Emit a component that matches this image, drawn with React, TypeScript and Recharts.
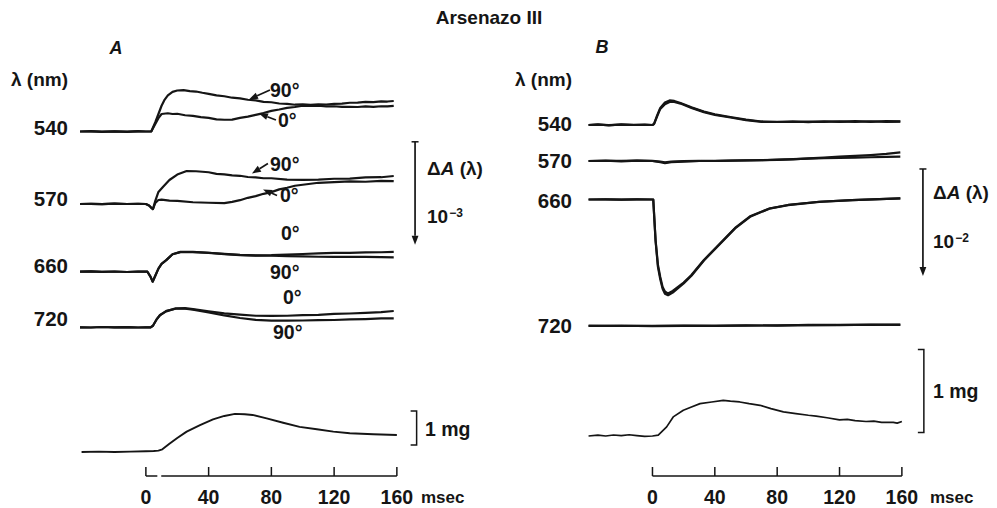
import React from 'react';
import { LineChart, Line, XAxis, YAxis, ReferenceLine } from 'recharts';

type Pt = [number, number];

// ---------- axis values ----------
const TIME_TICKS = [0, 40, 80, 120, 160];
const TIME_DOMAIN: [number, number] = [-42, 162];
const TITLE = 'Arsenazo III';
const WAVELENGTHS = ['540', '570', '660', '720'];

// ---------- Panel A : ΔA in units of 1e-4, force in mg ----------
const A540_90: Pt[] = [[-42,0],[-35,0.03],[-28,-0.02],[-20,0.02],[-12,-0.03],[-5,0.02],[0,0],[3.5,0.02],[6,0.9],[8,1.7],[10,2.5],[12,3.1],[14,3.5],[17,3.85],[20,3.98],[24,4.02],[28,3.92],[32,3.88],[36,3.76],[40,3.66],[45,3.5],[50,3.42],[55,3.28],[60,3.22],[65,3.08],[70,3.02],[75,2.88],[80,2.84],[85,2.72],[90,2.69],[95,2.6],[100,2.64],[105,2.58],[110,2.63],[115,2.62],[120,2.69],[125,2.7],[130,2.79],[135,2.8],[140,2.88],[145,2.86],[150,2.93],[154,2.91],[158,2.96]];
const A540_0: Pt[] = [[-42,0],[-35,0.02],[-28,-0.03],[-20,0.01],[-12,-0.02],[-5,0.03],[0,0],[3.5,0.02],[6,0.73],[8,1.3],[10,1.7],[14,1.77],[17,1.7],[20,1.72],[25,1.58],[30,1.52],[35,1.4],[40,1.33],[45,1.18],[50,1.14],[55,1.15],[60,1.32],[65,1.44],[70,1.62],[75,1.79],[80,2.0],[85,2.14],[90,2.3],[95,2.38],[100,2.5],[105,2.48],[110,2.5],[115,2.44],[120,2.45],[125,2.39],[130,2.4],[135,2.38],[140,2.44],[145,2.4],[150,2.45],[154,2.43],[158,2.48]];
const A570_90: Pt[] = [[-42,0],[-35,0.02],[-28,-0.02],[-20,0.03],[-12,0],[-5,0.02],[0,0],[2,-0.15],[3,-0.3],[4.5,-0.5],[6,0.3],[8,1.17],[11,1.68],[15,2.33],[20,2.86],[26,3.2],[32,3.18],[40,3.08],[45,2.93],[50,2.88],[55,2.78],[60,2.74],[65,2.62],[70,2.59],[75,2.5],[80,2.5],[90,2.36],[100,2.35],[110,2.36],[120,2.45],[130,2.46],[140,2.59],[150,2.6],[158,2.72]];
const A570_0: Pt[] = [[-42,0],[-35,0.02],[-28,-0.02],[-20,0.03],[-12,0],[-5,0.02],[0,0],[2,-0.15],[3,-0.3],[4.5,-0.5],[6,0.1],[8,0.39],[10,0.42],[15,0.33],[20,0.3],[30,0.17],[40,0.12],[50,0.08],[55,0.2],[60,0.37],[65,0.6],[70,0.76],[75,0.99],[80,1.15],[85,1.42],[90,1.58],[95,1.77],[100,1.87],[110,2.06],[120,2.12],[130,2.2],[140,2.16],[150,2.24],[158,2.22]];
const A660_0: Pt[] = [[-42,0],[-35,0.03],[-28,-0.02],[-20,0.02],[-12,-0.03],[-5,0.02],[0,0],[1,0],[3,-0.5],[4.3,-0.97],[6,-0.4],[8,0.3],[10,0.75],[13,1.12],[17,1.7],[22,1.92],[30,1.93],[40,1.84],[50,1.73],[60,1.63],[70,1.58],[80,1.6],[90,1.67],[100,1.72],[110,1.77],[120,1.82],[130,1.83],[140,1.87],[150,1.89],[158,1.92]];
const A660_90: Pt[] = [[-42,0],[-35,0.03],[-28,-0.02],[-20,0.02],[-12,-0.03],[-5,0.02],[0,0],[1,0],[3,-0.5],[4.3,-0.97],[6,-0.4],[8,0.3],[10,0.75],[13,1.12],[17,1.7],[22,1.9],[30,1.9],[40,1.82],[50,1.7],[60,1.6],[70,1.56],[80,1.55],[90,1.52],[100,1.49],[110,1.45],[120,1.44],[130,1.43],[140,1.44],[150,1.41],[158,1.4]];
const A720_0: Pt[] = [[-42,0],[-35,-0.02],[-28,0.03],[-20,0],[-12,0.02],[-5,-0.02],[0,0],[3,0],[4.5,0.15],[7,0.8],[9,1.19],[13,1.55],[19,1.84],[25,1.86],[30,1.76],[40,1.56],[50,1.36],[60,1.23],[70,1.12],[80,1.11],[90,1.12],[100,1.19],[110,1.21],[120,1.3],[130,1.34],[140,1.41],[150,1.47],[158,1.58]];
const A720_90: Pt[] = [[-42,0],[-35,-0.02],[-28,0.03],[-20,0],[-12,0.02],[-5,-0.02],[0,0],[3,0],[4.5,0.15],[7,0.8],[9,1.17],[13,1.6],[19,1.8],[25,1.8],[30,1.72],[40,1.45],[50,1.15],[60,0.9],[70,0.72],[80,0.64],[90,0.65],[100,0.66],[110,0.69],[120,0.71],[130,0.76],[140,0.8],[150,0.86],[158,0.87]];
const A_FORCE: Pt[] = [[-41,0],[-30,0.01],[-20,0],[-10,0.01],[0,0.02],[5,0.03],[8,0.04],[10.5,0.08],[15,0.24],[20,0.41],[26,0.6],[34.5,0.79],[42.8,0.96],[50,1.06],[56.8,1.12],[63,1.11],[68,1.09],[77,0.99],[87.5,0.86],[98,0.74],[109,0.67],[119.5,0.6],[130,0.55],[145,0.52],[160,0.5]];

// ---------- Panel B : ΔA in units of 1e-3, force in mg ----------
const B540_1: Pt[] = [[-41,0],[-35,0.05],[-28,-0.03],[-20,0.05],[-12,0],[-5,0.04],[0,0],[1,0.1],[3,0.9],[5,1.6],[8,2.1],[11,2.3],[14,2.25],[18,2.05],[25,1.65],[33,1.25],[40,1.0],[50,0.75],[60,0.5],[70,0.33],[80,0.28],[90,0.34],[100,0.27],[110,0.35],[120,0.29],[130,0.36],[140,0.29],[150,0.37],[159,0.33]];
const B540_2: Pt[] = [[-41,0],[-35,0.03],[-28,-0.01],[-20,0.03],[-12,0.02],[-5,0.02],[0,0],[1,0.08],[3,0.8],[5,1.5],[8,1.95],[11,2.15],[14,2.15],[18,2.0],[25,1.6],[33,1.2],[40,0.95],[50,0.7],[60,0.45],[70,0.3],[80,0.3],[90,0.28],[100,0.32],[110,0.29],[120,0.34],[130,0.3],[140,0.35],[150,0.3],[159,0.31]];
const B570_1: Pt[] = [[-41,0],[-30,0.04],[-20,-0.03],[-10,0.03],[0,0],[5,-0.1],[8,-0.2],[12,-0.1],[20,-0.05],[30,0],[40,0.02],[50,0.03],[60,0.05],[70,0.08],[80,0.1],[90,0.15],[100,0.25],[110,0.32],[120,0.4],[130,0.47],[140,0.55],[150,0.66],[159,0.8]];
const B570_2: Pt[] = [[-41,0],[-30,0.02],[-20,0.01],[-10,0.04],[0,0.01],[5,-0.05],[8,-0.12],[12,-0.06],[20,-0.02],[30,0.02],[40,0],[50,0.04],[60,0.06],[70,0.07],[80,0.12],[90,0.17],[100,0.22],[110,0.26],[120,0.3],[130,0.32],[140,0.35],[150,0.38],[159,0.4]];
const B660_1: Pt[] = [[-41,0],[-30,0.02],[-20,-0.02],[-10,0.02],[0,0],[0.5,0],[2,-3.79],[3.5,-6.1],[5,-7.24],[6.5,-8.18],[8,-8.6],[10,-8.79],[13,-8.55],[20,-7.76],[25,-7.06],[33,-5.65],[43,-4.16],[53,-2.66],[63,-1.54],[75,-0.84],[87,-0.51],[107,-0.21],[128,-0.05],[159,0.11]];
const B660_2: Pt[] = [[-41,0],[-30,0.01],[-20,-0.01],[-10,0.01],[0,0],[0.5,0],[2,-3.9],[3.5,-6.3],[5,-7.45],[6.5,-8.35],[8,-8.8],[10,-8.95],[13,-8.7],[20,-7.85],[25,-7.12],[33,-5.7],[43,-4.2],[53,-2.7],[63,-1.58],[75,-0.86],[87,-0.52],[107,-0.22],[128,-0.06],[159,0.1]];
const B720_1: Pt[] = [[-41,0],[-20,0.03],[0,-0.02],[20,0.02],[40,0],[60,0.04],[80,0.05],[100,0.08],[120,0.1],[140,0.1],[159,0.12]];
const B720_2: Pt[] = [[-41,0.03],[-20,0],[0,0.01],[20,0.04],[40,0.03],[60,0.06],[80,0.04],[100,0.1],[120,0.08],[140,0.12],[159,0.1]];
const B_FORCE: Pt[] = [[-41,0],[-35,0.01],[-30,0],[-25,0.012],[-20,0.005],[-15,0.015],[-10,0.005],[-5,-0.005],[0,0],[3.7,0.01],[9.1,0.11],[13.3,0.23],[19.8,0.31],[25,0.35],[30.5,0.39],[38,0.41],[45.4,0.43],[50,0.42],[56,0.41],[62,0.39],[69,0.37],[76,0.33],[84,0.29],[92,0.27],[100,0.25],[105,0.24],[112,0.22],[120,0.195],[125,0.2],[130,0.185],[137,0.175],[142,0.18],[147,0.165],[154.5,0.165],[157,0.155],[160,0.175]];

// ---------- layout ----------
const W = 997;
const H = 508;
const AXIS_H = 32;
const PH = H - AXIS_H;
const INK = '#151515';
const FONT = "'Liberation Sans', Arial, sans-serif";

const rows = (pts: Pt[]) => pts.map(([t, v]) => ({ t, v }));
const dom = (basePx: number, k: number): [number, number] => [-(PH - basePx) / k, basePx / k];

type AxisDef = { id: string; base: number; k: number };
type TraceDef = { axis: string; data: Pt[]; w?: number };

const A_AXES: AxisDef[] = [
  { id: 'a540', base: 131.5, k: 10.3 },
  { id: 'a570', base: 204, k: 10.3 },
  { id: 'a660', base: 271.7, k: 10.3 },
  { id: 'a720', base: 327.3, k: 10.3 },
  { id: 'af', base: 452, k: 34 },
];
const B_AXES: AxisDef[] = [
  { id: 'b540', base: 125, k: 10.7 },
  { id: 'b570', base: 161, k: 10.7 },
  { id: 'b660', base: 199.5, k: 10.7 },
  { id: 'b720', base: 326, k: 10.7 },
  { id: 'bf', base: 436, k: 83 },
];

const A_TRACES: TraceDef[] = [
  { axis: 'a540', data: A540_90 }, { axis: 'a540', data: A540_0 },
  { axis: 'a570', data: A570_90 }, { axis: 'a570', data: A570_0 },
  { axis: 'a660', data: A660_0 }, { axis: 'a660', data: A660_90 },
  { axis: 'a720', data: A720_0 }, { axis: 'a720', data: A720_90 },
  { axis: 'af', data: A_FORCE, w: 1.9 },
];
const B_TRACES: TraceDef[] = [
  { axis: 'b540', data: B540_1 }, { axis: 'b540', data: B540_2 },
  { axis: 'b570', data: B570_1 }, { axis: 'b570', data: B570_2 },
  { axis: 'b660', data: B660_1 }, { axis: 'b660', data: B660_2 },
  { axis: 'b720', data: B720_1 }, { axis: 'b720', data: B720_2 },
  { axis: 'bf', data: B_FORCE, w: 1.7 },
];

// ---------- shapes ----------
const arrowShape = (p: any) => {
  const { x1, y1, x2, y2 } = p;
  const ang = Math.atan2(y2 - y1, x2 - x1);
  const L = 9, hw = 3.4;
  const bx = x2 - L * Math.cos(ang), by = y2 - L * Math.sin(ang);
  const px = -Math.sin(ang) * hw, py = Math.cos(ang) * hw;
  return (
    <g>
      <line x1={x1} y1={y1} x2={bx} y2={by} stroke={INK} strokeWidth={1.7} />
      <polygon points={`${x2},${y2} ${bx + px},${by + py} ${bx - px},${by - py}`} fill={INK} />
    </g>
  );
};
const barShape = (p: any) => {
  const { x1, y1, x2, y2 } = p;
  return (
    <g>
      <line x1={x1 - 3.5} y1={y1} x2={x1 + 3.5} y2={y1} stroke={INK} strokeWidth={1.5} />
      {arrowShape({ x1, y1, x2, y2 })}
    </g>
  );
};
const bracketShape = (p: any) => {
  const { x1, y1, x2, y2 } = p;
  return (
    <g fill="none" stroke={INK} strokeWidth={1.5}>
      <polyline points={`${x1 - 6},${y1} ${x1},${y1} ${x2},${y2} ${x2 - 6},${y2}`} />
    </g>
  );
};
const plainShape = (p: any) => (
  <line x1={p.x1} y1={p.y1} x2={p.x2} y2={p.y2} stroke={INK} strokeWidth={1.5} />
);

const TimeTick = (p: any) => {
  const { x, y, payload } = p;
  return (
    <g>
      <line x1={x} y1={y} x2={x} y2={y - 9} stroke={INK} strokeWidth={1.5} />
      <text x={x} y={y + 28} textAnchor="middle" fontFamily={FONT} fontWeight="bold" fontSize={19.5} fill={INK}>
        {payload.value}
      </text>
    </g>
  );
};

type Seg = { axis: string; from: Pt; to: Pt; kind: 'arrow' | 'bar' | 'bracket' | 'plain' };

const A_SEGS: Seg[] = [
  { axis: 'a540', from: [79.1, 4.03], to: [65.7, 3.11], kind: 'arrow' },
  { axis: 'a540', from: [82.9, 1.12], to: [72.1, 1.75], kind: 'arrow' },
  { axis: 'a570', from: [77.8, 3.93], to: [67.6, 2.96], kind: 'arrow' },
  { axis: 'a570', from: [83.6, 0.83], to: [74.7, 1.41], kind: 'arrow' },
  { axis: 'a540', from: [171.6, -1.0], to: [171.6, -11.0], kind: 'bar' },
  { axis: 'af', from: [172.6, 1.206], to: [172.6, 0.206], kind: 'bracket' },
];
const B_SEGS: Seg[] = [
  { axis: 'b540', from: [173.5, -4.11], to: [173.5, -14.11], kind: 'bar' },
  { axis: 'bf', from: [174.1, 1.042], to: [174.1, 0.042], kind: 'bracket' },
];

const shapeOf = (k: Seg['kind']) =>
  k === 'arrow' ? arrowShape : k === 'bar' ? barShape : k === 'bracket' ? bracketShape : plainShape;

function Panel(props: { left: number; right: number; axes: AxisDef[]; traces: TraceDef[]; segs: Seg[]; baseRuns: Pt[] }) {
  const { left, right, axes, traces, segs, baseRuns } = props;
  const forceAxis = axes[axes.length - 1];
  const fMin = dom(forceAxis.base, forceAxis.k)[0];
  const allSegs: Seg[] = [
    ...segs,
    ...baseRuns.map((r): Seg => ({ axis: forceAxis.id, from: [r[0], fMin], to: [r[1], fMin], kind: 'plain' })),
  ];
  return (
    <div style={{ position: 'absolute', left: 0, top: 0 }}>
      <LineChart width={W} height={H} margin={{ top: 0, right, bottom: 0, left }}>
        <XAxis
          type="number"
          dataKey="t"
          domain={TIME_DOMAIN}
          ticks={TIME_TICKS}
          interval={0}
          allowDataOverflow
          axisLine={false}
          tickLine={false}
          tickSize={0}
          tickMargin={0}
          height={AXIS_H}
          tick={(p: any) => <TimeTick {...p} />}
        />
        {axes.map((a) => (
          <YAxis key={a.id} yAxisId={a.id} hide type="number" domain={dom(a.base, a.k)} allowDataOverflow />
        ))}
        {traces.map((tr, i) => (
          <Line
            key={i}
            yAxisId={tr.axis}
            data={rows(tr.data)}
            dataKey="v"
            type="linear"
            stroke={INK}
            strokeWidth={tr.w ?? 2.2}
            dot={false}
            activeDot={false}
            isAnimationActive={false}
            strokeLinejoin="round"
          />
        ))}
        {allSegs.map((s, i) => (
          <ReferenceLine
            key={'s' + i}
            yAxisId={s.axis}
            segment={[{ x: s.from[0], y: s.from[1] }, { x: s.to[0], y: s.to[1] }]}
            ifOverflow="visible"
            shape={shapeOf(s.kind)}
          />
        ))}
      </LineChart>
    </div>
  );
}

type Txt = [string, number, number];
const A_ANGLES: Txt[] = [['90°', 270, 97], ['0°', 278, 127], ['90°', 270, 171], ['0°', 280, 202], ['0°', 281, 240], ['90°', 270, 279], ['0°', 283, 304], ['90°', 273, 339]];
const A_WL_Y = [135, 206, 273, 326];
const B_WL_Y = [131, 168, 208, 333];

function Overlay() {
  const t = (s: string, x: number, y: number, anchor: 'start' | 'middle' | 'end' = 'start', size = 19.5, extra: any = {}) => (
    <text x={x} y={y} textAnchor={anchor} fontFamily={FONT} fontWeight="bold" fontSize={size} fill={INK} {...extra}>{s}</text>
  );
  const dA = (x: number, y: number) => (
    <text x={x} y={y} fontFamily={FONT} fontWeight="bold" fontSize={19} fill={INK}>
      Δ<tspan fontStyle="italic">A</tspan> (λ)
    </text>
  );
  const pow = (x: number, y: number, e: string) => (
    <text x={x} y={y} fontFamily={FONT} fontWeight="bold" fontSize={19} fill={INK}>
      10<tspan dy={-6} dx={1} fontSize={12}>{e}</tspan>
    </text>
  );
  return (
    <svg width={W} height={H} style={{ position: 'absolute', left: 0, top: 0, pointerEvents: 'none' }}>
      {t(TITLE, 489, 23.5, 'middle', 19)}
      {t('A', 116, 54, 'middle', 18, { fontStyle: 'italic' })}
      {t('B', 602, 53, 'middle', 18, { fontStyle: 'italic' })}
      {t('λ (nm)', 68, 86, 'end', 19)}
      {t('λ (nm)', 572, 86, 'end', 19)}
      {WAVELENGTHS.map((w, i) => <g key={'a' + w}>{t(w, 68, A_WL_Y[i], 'end', 20.5)}</g>)}
      {WAVELENGTHS.map((w, i) => <g key={'b' + w}>{t(w, 572, B_WL_Y[i], 'end', 20.5)}</g>)}
      {A_ANGLES.map((a, i) => <g key={'ang' + i}>{t(a[0], a[1], a[2])}</g>)}
      {dA(427, 175)}
      {pow(427, 223, '−3')}
      {dA(933, 199)}
      {pow(933, 248, '−2')}
      {t('1 mg', 425, 436)}
      {t('1 mg', 933, 398)}
      {t('msec', 421, 503, 'start', 17)}
      {t('msec', 930, 503, 'start', 17)}
    </svg>
  );
}

export default function App() {
  return (
    <div style={{ position: 'absolute', left: 0, top: 0, width: W, height: H, background: '#fff', overflow: 'hidden' }}>
      <Panel left={80} right={W - 400} axes={A_AXES} traces={A_TRACES} segs={A_SEGS} baseRuns={[[0, 7.3], [9.8, 160]]} />
      <Panel left={587} right={W - 905} axes={B_AXES} traces={B_TRACES} segs={B_SEGS} baseRuns={[[0, 160]]} />
      <Overlay />
    </div>
  );
}
